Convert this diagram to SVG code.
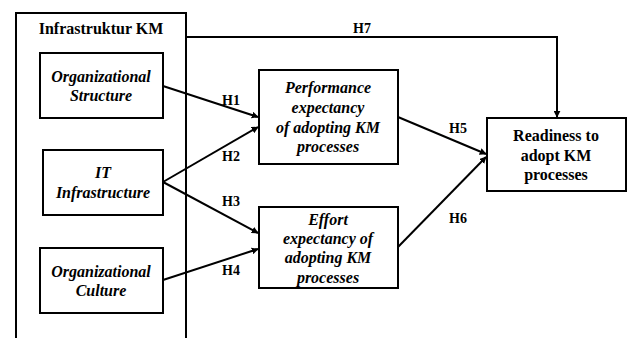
<svg xmlns="http://www.w3.org/2000/svg" width="632" height="338" viewBox="0 0 632 338">
<style>
.box{fill:#fff;stroke:#000;stroke-width:2}
.t{font-family:"Liberation Serif","Times New Roman",serif;font-weight:bold;font-size:16px;text-anchor:middle;fill:#000}
.i{font-style:italic}
.h{font-family:"Liberation Serif","Times New Roman",serif;font-weight:bold;font-size:14px;text-anchor:middle;fill:#000}
.c{fill:none;stroke:#000;stroke-width:2;marker-end:url(#a)}
</style>
<defs>
<marker id="a" viewBox="0 0 10 10" refX="9" refY="5" markerWidth="7" markerHeight="7" markerUnits="userSpaceOnUse" orient="auto">
<path d="M0,0 L10,5 L0,10 z" fill="#000"/>
</marker>
</defs>
<rect width="632" height="338" fill="#fff"/>
<g id="infrastruktur">
<path d="M16,340 V13 H186 V340" fill="none" stroke="#000" stroke-width="2"/>
<text class="t" x="101" y="34">Infrastruktur KM</text>
</g>
<g id="org-structure">
<rect class="box" x="40" y="53" width="123" height="65"/>
<text class="t i" x="101" y="82">Organizational</text>
<text class="t i" x="101" y="101">Structure</text>
</g>
<g id="it-infrastructure">
<rect class="box" x="43" y="150" width="120" height="65"/>
<text class="t i" x="103" y="178">IT</text>
<text class="t i" x="103" y="198">Infrastructure</text>
</g>
<g id="org-culture">
<rect class="box" x="40" y="248" width="123" height="65"/>
<text class="t i" x="101" y="277">Organizational</text>
<text class="t i" x="101" y="296">Culture</text>
</g>
<g id="performance">
<rect class="box" x="259" y="70" width="139" height="94"/>
<text class="t i" x="328" y="93">Performance</text>
<text class="t i" x="328" y="113">expectancy</text>
<text class="t i" x="328" y="133">of adopting KM</text>
<text class="t i" x="328" y="152">processes</text>
</g>
<g id="effort">
<rect class="box" x="259" y="207" width="139" height="81"/>
<text class="t i" x="328" y="225">Effort</text>
<text class="t i" x="328" y="244">expectancy of</text>
<text class="t i" x="328" y="263">adopting KM</text>
<text class="t i" x="328" y="283">processes</text>
</g>
<g id="readiness">
<rect class="box" x="487" y="118" width="139" height="73"/>
<text class="t" x="556" y="141">Readiness to</text>
<text class="t" x="556" y="161">adopt KM</text>
<text class="t" x="556" y="180">processes</text>
</g>
<g id="connectors">
<path class="c" d="M186,37 H557 V117"/>
<path class="c" d="M163,86 L258,117"/>
<path class="c" d="M163,182 L258,127"/>
<path class="c" d="M163,182 L258,233"/>
<path class="c" d="M163,280 L258,249"/>
<path class="c" d="M398,117 L486,154"/>
<path class="c" d="M398,247 L486,157"/>
<text class="h" x="362" y="33">H7</text>
<text class="h" x="231" y="105">H1</text>
<text class="h" x="231" y="161">H2</text>
<text class="h" x="231" y="206">H3</text>
<text class="h" x="231" y="275">H4</text>
<text class="h" x="458" y="133">H5</text>
<text class="h" x="458" y="223">H6</text>
</g>
</svg>
